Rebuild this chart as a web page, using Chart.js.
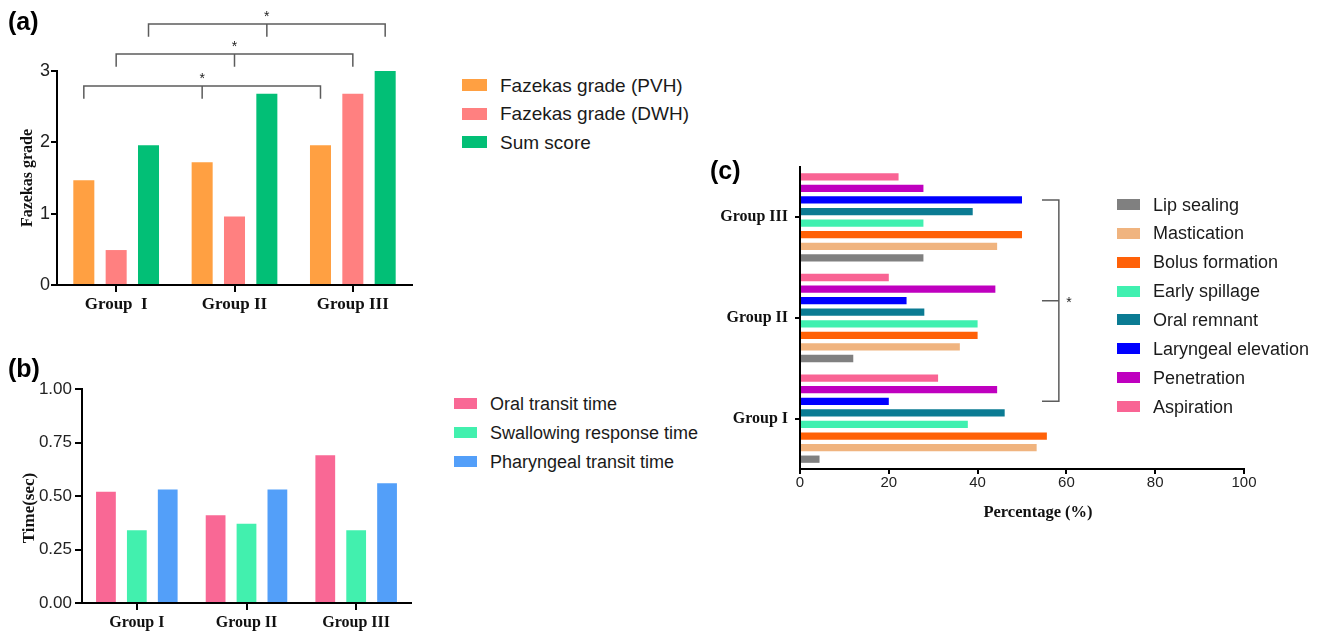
<!DOCTYPE html>
<html>
<head>
<meta charset="utf-8">
<script src="https://cdn.jsdelivr.net/npm/chart.js@4.4.1/dist/chart.umd.min.js"></script>
<style>
html,body{margin:0;padding:0;background:#fff;}
body{width:1320px;height:632px;position:relative;overflow:hidden;font-family:"Liberation Sans",Arial,sans-serif;}
canvas{position:absolute;}
.panel{position:absolute;font:bold 25px "Liberation Sans",Arial,sans-serif;color:#000;line-height:1;white-space:nowrap;}
.ytitle{position:absolute;font:bold 16px "Liberation Serif","Times New Roman",serif;color:#111;white-space:nowrap;line-height:1;transform:translate(-50%,-50%) rotate(-90deg);}
.xtitle{position:absolute;font:bold 16.5px "Liberation Serif","Times New Roman",serif;color:#111;white-space:nowrap;line-height:1;transform:translate(-50%,-50%);}
.leg{position:absolute;display:flex;align-items:center;height:20px;font:18px "Liberation Sans",Arial,sans-serif;color:#1a1a1a;white-space:nowrap;line-height:1;}
.leg .sw{display:inline-block;flex:none;}
</style>
</head>
<body>
<canvas id="ca" width="440" height="330" style="left:0;top:0;width:440px;height:330px"></canvas>
<canvas id="cb" width="440" height="292" style="left:0;top:340px;width:440px;height:292px"></canvas>
<canvas id="cc" width="620" height="390" style="left:700px;top:140px;width:620px;height:390px"></canvas>

<div class="panel" style="left:8px;top:9px">(a)</div>
<div class="panel" style="left:8px;top:356px">(b)</div>
<div class="panel" style="left:710px;top:158px">(c)</div>

<div class="ytitle" style="left:27px;top:178px">Fazekas grade</div>
<div class="ytitle" style="left:28px;top:508px;font-size:17px">Time(sec)</div>
<div class="xtitle" style="left:1038px;top:512px">Percentage (%)</div>

<div id="legends"></div>

<script>
// ---------- Panel (a) data ----------
const groupsA = ['Group  I', 'Group II', 'Group III'];
const seriesNamesA = ['Fazekas grade (PVH)', 'Fazekas grade (DWH)', 'Sum score'];
const fazekasPVH = [1.47, 1.72, 1.96];
const fazekasDWH = [0.49, 0.96, 2.68];
const sumScore = [1.96, 2.68, 3.00];
const yTicksA = [0, 1, 2, 3];
// significance brackets: dataset index and bracket level (data units)
const bracketDatasetsA = [0, 1, 2];
const bracketLevelsA = [2.79, 3.24, 3.66];

// ---------- Panel (b) data ----------
const groupsB = ['Group I', 'Group II', 'Group III'];
const seriesNamesB = ['Oral transit time', 'Swallowing response time', 'Pharyngeal transit time'];
const oralTransit = [0.52, 0.41, 0.69];
const swallowResponse = [0.34, 0.37, 0.34];
const pharyngealTransit = [0.53, 0.53, 0.56];
const yTicksB = [0, 0.25, 0.5, 0.75, 1];

// ---------- Panel (c) data ----------
const groupsC = ['Group I', 'Group II', 'Group III'];
const seriesNamesC = ['Lip sealing', 'Mastication', 'Bolus formation', 'Early spillage',
                      'Oral remnant', 'Laryngeal elevation', 'Penetration', 'Aspiration'];
const lipSealing = [4.4, 12, 27.8];
const mastication = [53.3, 36, 44.4];
const bolusFormation = [55.6, 40, 50];
const earlySpillage = [37.8, 40, 27.8];
const oralRemnant = [46.1, 28, 38.9];
const laryngealElevation = [20, 24, 50];
const penetration = [44.4, 44, 27.8];
const aspiration = [31.1, 20, 22.2];
const xTicksC = [0, 20, 40, 60, 80, 100];
const bracketSeriesC = 'Laryngeal elevation';
const bracketRangeC = [54.5, 58.3];
const bracketStarC = 60.6;

// ---------- styles ----------
const colorsA = ['#FFA042', '#FF8080', '#02BF76'];
const colorsB = ['#F96895', '#42F0AE', '#539FF9'];
const colorsC = ['#808080', '#F0B47F', '#FF6108', '#40F0B0', '#0B7B93', '#0000FF', '#BF00BF', '#F96494'];

Chart.defaults.font.family = '"Liberation Sans", Arial, sans-serif';
Chart.defaults.color = '#111';

const serifBold = (size) => ({family: '"Liberation Serif", "Times New Roman", serif', size: size, weight: 'bold'});
const sans = (size) => ({family: '"Liberation Sans", Arial, sans-serif', size: size});

function tickGrid(len) {
  return {display: true, drawOnChartArea: false, drawTicks: true, tickLength: len, color: '#000', lineWidth: 2, offset: false};
}
const axisBorder = {display: true, color: '#000', width: 2};

// ---------- Chart (a) ----------
const bracketPluginA = {
  id: 'bracketsA',
  afterDatasetsDraw(chart) {
    const ctx = chart.ctx, ys = chart.scales.y;
    const drop = 0.18;
    ctx.save();
    ctx.strokeStyle = '#5c5c5c';
    ctx.lineWidth = 1.5;
    bracketDatasetsA.forEach((ds, k) => {
      const xs = chart.getDatasetMeta(ds).data.map(el => el.x);
      const yl = ys.getPixelForValue(bracketLevelsA[k]);
      const yd = ys.getPixelForValue(bracketLevelsA[k] - drop);
      ctx.beginPath();
      ctx.moveTo(xs[0], yd); ctx.lineTo(xs[0], yl); ctx.lineTo(xs[2], yl); ctx.lineTo(xs[2], yd);
      ctx.moveTo(xs[1], yl); ctx.lineTo(xs[1], yd);
      ctx.stroke();
      ctx.fillStyle = '#222';
      ctx.font = '14px "Liberation Sans", Arial, sans-serif';
      ctx.textAlign = 'center';
      ctx.textBaseline = 'middle';
      ctx.fillText('*', xs[1], yl - 7);
    });
    ctx.restore();
  }
};

new Chart(document.getElementById('ca'), {
  type: 'bar',
  data: {
    labels: groupsA,
    datasets: [fazekasPVH, fazekasDWH, sumScore].map((d, i) => ({
      label: seriesNamesA[i], data: d, backgroundColor: colorsA[i], borderWidth: 0
    }))
  },
  options: {
    responsive: false, animation: false,
    layout: {padding: {left: 0, right: 28, top: 71, bottom: 0}},
    plugins: {legend: {display: false}, tooltip: {enabled: false}},
    datasets: {bar: {categoryPercentage: 0.82, barPercentage: 0.65}},
    scales: {
      x: {
        grid: tickGrid(7), border: axisBorder,
        ticks: {font: serifBold(17), color: '#111', padding: 2, maxRotation: 0, autoSkip: false},
        afterFit: s => { s.height = 45; }
      },
      y: {
        min: 0, max: 3,
        afterBuildTicks: s => { s.ticks = yTicksA.map(v => ({value: v})); },
        grid: tickGrid(6), border: axisBorder,
        ticks: {font: sans(18), color: '#222', padding: 1},
        afterFit: s => { s.width = 57; }
      }
    }
  },
  plugins: [bracketPluginA]
});

// ---------- Chart (b) ----------
new Chart(document.getElementById('cb'), {
  type: 'bar',
  data: {
    labels: groupsB,
    datasets: [oralTransit, swallowResponse, pharyngealTransit].map((d, i) => ({
      label: seriesNamesB[i], data: d, backgroundColor: colorsB[i], borderWidth: 0
    }))
  },
  options: {
    responsive: false, animation: false,
    layout: {padding: {left: 0, right: 29, top: 49, bottom: 0}},
    plugins: {legend: {display: false}, tooltip: {enabled: false}},
    datasets: {bar: {categoryPercentage: 0.845, barPercentage: 0.64}},
    scales: {
      x: {
        grid: tickGrid(7), border: axisBorder,
        ticks: {font: serifBold(16), color: '#111', padding: 3, maxRotation: 0, autoSkip: false},
        afterFit: s => { s.height = 29; }
      },
      y: {
        min: 0, max: 1,
        afterBuildTicks: s => { s.ticks = yTicksB.map(v => ({value: v})); },
        grid: tickGrid(7), border: axisBorder,
        ticks: {font: sans(17), color: '#222', padding: 3, callback: v => Number(v).toFixed(2)},
        afterFit: s => { s.width = 82; }
      }
    }
  }
});

// ---------- Chart (c) ----------
const seriesC = [lipSealing, mastication, bolusFormation, earlySpillage, oralRemnant, laryngealElevation, penetration, aspiration];
const labelsCTopDown = groupsC.slice().reverse();
const datasetsC = seriesNamesC.map((n, i) => ({
  label: n, data: seriesC[i].slice().reverse(), backgroundColor: colorsC[i], borderWidth: 0
})).reverse();

const bracketPluginC = {
  id: 'bracketC',
  afterDatasetsDraw(chart) {
    const ctx = chart.ctx, xs = chart.scales.x;
    const di = chart.data.datasets.findIndex(d => d.label === bracketSeriesC);
    const ys = chart.getDatasetMeta(di).data.map(el => el.y);
    const x0 = xs.getPixelForValue(bracketRangeC[0]);
    const x1 = xs.getPixelForValue(bracketRangeC[1]);
    ctx.save();
    ctx.strokeStyle = '#5c5c5c';
    ctx.lineWidth = 1.5;
    ctx.beginPath();
    ctx.moveTo(x0, ys[0]); ctx.lineTo(x1, ys[0]); ctx.lineTo(x1, ys[2]); ctx.lineTo(x0, ys[2]);
    ctx.moveTo(x0, ys[1]); ctx.lineTo(x1, ys[1]);
    ctx.stroke();
    ctx.fillStyle = '#222';
    ctx.font = '14px "Liberation Sans", Arial, sans-serif';
    ctx.textAlign = 'center';
    ctx.textBaseline = 'middle';
    ctx.fillText('*', xs.getPixelForValue(bracketStarC), ys[1] + 3);
    ctx.restore();
  }
};

new Chart(document.getElementById('cc'), {
  type: 'bar',
  data: {labels: labelsCTopDown, datasets: datasetsC},
  options: {
    indexAxis: 'y',
    responsive: false, animation: false,
    layout: {padding: {left: 0, right: 76, top: 27, bottom: 0}},
    plugins: {legend: {display: false}, tooltip: {enabled: false}},
    datasets: {bar: {categoryPercentage: 0.92, barPercentage: 0.63}},
    scales: {
      x: {
        min: 0, max: 100,
        afterBuildTicks: s => { s.ticks = xTicksC.map(v => ({value: v})); },
        grid: tickGrid(5), border: axisBorder,
        ticks: {font: sans(15), color: '#222', padding: 0, maxRotation: 0},
        afterFit: s => { s.height = 61; }
      },
      y: {
        grid: tickGrid(5), border: axisBorder,
        ticks: {font: serifBold(16), color: '#111', padding: 7, autoSkip: false},
        afterFit: s => { s.width = 100; }
      }
    }
  },
  plugins: [bracketPluginC]
});

// ---------- HTML legends ----------
function buildLegend(names, colors, boxLeft, textLeft, firstCenter, step, boxW, boxH, fontPx) {
  const host = document.getElementById('legends');
  names.forEach((n, i) => {
    const row = document.createElement('div');
    row.className = 'leg';
    row.style.left = boxLeft + 'px';
    row.style.top = (firstCenter + i * step - 10) + 'px';
    row.style.fontSize = fontPx + 'px';
    const sw = document.createElement('span');
    sw.className = 'sw';
    sw.style.width = boxW + 'px';
    sw.style.height = boxH + 'px';
    sw.style.background = colors[i];
    sw.style.marginRight = (textLeft - boxLeft - boxW) + 'px';
    const tx = document.createElement('span');
    tx.textContent = n;
    row.appendChild(sw);
    row.appendChild(tx);
    host.appendChild(row);
  });
}
buildLegend(seriesNamesA, colorsA, 462, 500, 85, 28.5, 25, 12, 19);
buildLegend(seriesNamesB, colorsB, 454, 490, 403.5, 29, 23, 11, 18);
buildLegend(seriesNamesC, colorsC, 1117, 1153, 204.5, 28.86, 23, 11, 18);
</script>
</body>
</html>
